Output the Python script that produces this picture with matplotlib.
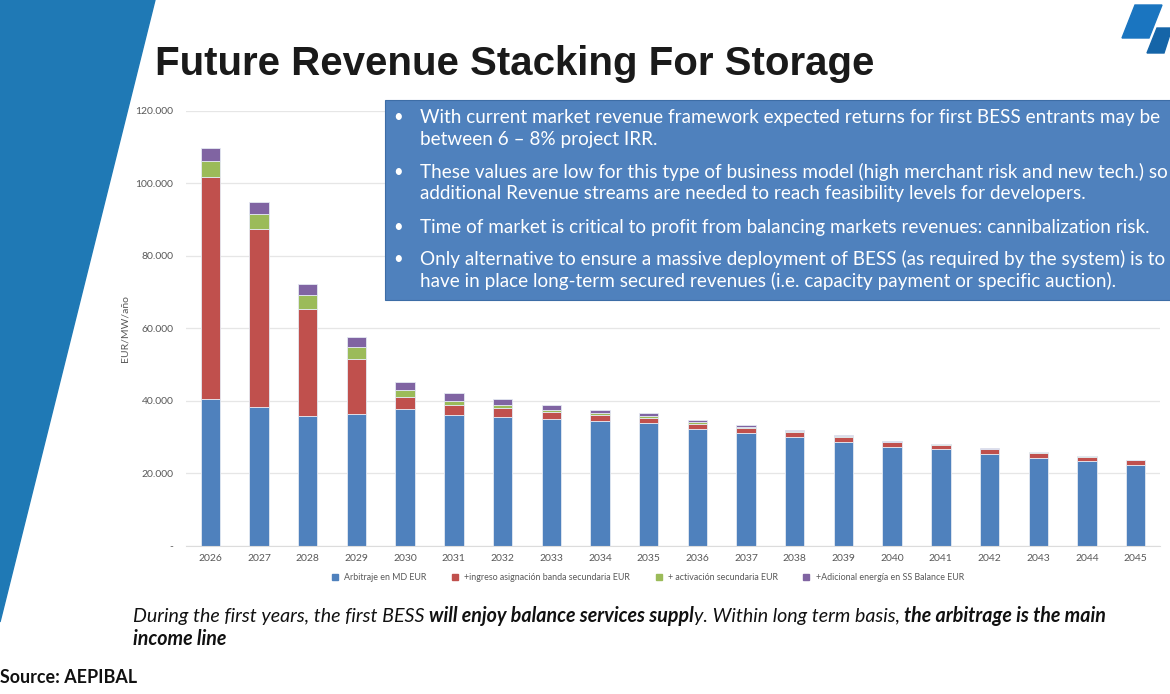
import matplotlib
matplotlib.use('Agg')
import matplotlib.pyplot as plt
from matplotlib.patches import Polygon, Rectangle
from matplotlib.lines import Line2D
from matplotlib.ticker import FuncFormatter, MultipleLocator
import numpy as np

W, H = 1170, 694
FONT = 'Lato'

years = [str(y) for y in range(2026, 2046)]
# EUR/MW/year (thousands)
arbitraje = [40.4, 38.3, 35.9, 36.4, 37.6, 36.1, 35.6, 34.9, 34.4, 33.8,
             32.2, 31.1, 30.0, 28.7, 27.1, 26.6, 25.3, 24.3, 23.3, 22.3]
banda = [61.3, 49.1, 29.4, 15.1, 3.4, 2.7, 2.4, 2.0, 1.7, 1.5,
         1.5, 1.4, 1.3, 1.3, 1.4, 1.3, 1.4, 1.4, 1.3, 1.3]
activacion = [4.4, 4.2, 3.9, 3.2, 1.9, 1.1, 0.8, 0.6, 0.5, 0.5,
              0.4, 0.3, 0.3, 0.2, 0.2, 0.1, 0.1, 0.05, 0.05, 0.05]
adicional = [3.6, 3.3, 2.9, 2.8, 2.3, 2.1, 1.7, 1.3, 0.9, 0.8,
             0.5, 0.4, 0.3, 0.3, 0.2, 0.1, 0.1, 0.1, 0.05, 0.05]

series_names = ['Arbitraje en MD EUR', '+ingreso asignación banda secundaria EUR',
                '+ activación secundaria EUR', '+Adicional energía en SS Balance EUR']
series_colors = ['#4F81BD', '#C0504D', '#9BBB59', '#8064A2']

bullets = [
    ['With current market revenue framework expected returns for first BESS entrants may be',
     'between 6 – 8% project IRR.'],
    ['These values are low for this type of business model (high merchant risk and new tech.) so',
     'additional Revenue streams are needed to reach feasibility levels for developers.'],
    ['Time of market is critical to profit from balancing markets revenues: cannibalization risk.'],
    ['Only alternative to ensure a massive deployment of BESS (as required by the system) is to',
     'have in place long-term secured revenues (i.e. capacity payment or specific auction).'],
]
bullet_y = [[117, 139], [172, 194], [227], [259, 281]]


def P(x, y):
    return x / W, 1 - y / H


fig = plt.figure(figsize=(W / 100, H / 100), dpi=100)
r = fig.canvas.get_renderer()

# decoration on the left and logo
fig.patches.append(Polygon([P(0, 0), P(155, 0), P(0, 622)], closed=True,
                           transform=fig.transFigure, color='#1f79b5', zorder=0))
fig.patches.append(Polygon([P(1135, 5), P(1162, 5), P(1149, 38), P(1122, 38)], closed=True,
                           transform=fig.transFigure, color='#1a75c0'))
fig.patches.append(Polygon([P(1157, 28), P(1172, 28), P(1164, 53), P(1147, 53)], closed=True,
                           transform=fig.transFigure, color='#1565a8'))

fig.text(*P(155, 75), 'Future Revenue Stacking For Storage', fontsize=29, weight='bold',
         family='Liberation Sans', color='#1a1a1a', va='baseline')

# chart
ax = fig.add_axes([186 / W, 1 - 545.7 / H, (1160 - 186) / W, (545.7 - 110.7) / H])
x = np.arange(len(years))
bottom = np.zeros(len(years))
for vals, name, col in zip([arbitraje, banda, activacion, adicional], series_names, series_colors):
    v = np.array(vals) * 1000
    ax.bar(x, v, 0.4, bottom=bottom, color=col, edgecolor='#e4e9f2', linewidth=0.6,
           label=name, zorder=2)
    bottom += v

ax.set_xlim(-0.5, len(years) - 0.5)
ax.set_ylim(0, 120000)
ax.yaxis.set_major_locator(MultipleLocator(20000))
ax.yaxis.set_major_formatter(FuncFormatter(
    lambda v, p: '-' if v == 0 else f'{v:,.0f}'.replace(',', '.')))
ax.set_xticks(x)
ax.set_xticklabels(years)
ax.tick_params(length=0, labelsize=7.5, labelcolor='#595959', pad=6)
ax.tick_params(axis='y', pad=9)
ax.grid(axis='y', color='#e6e6e6', linewidth=0.9, zorder=0)
for s in ['top', 'right', 'left']:
    ax.spines[s].set_visible(False)
ax.spines['bottom'].set_color('#dcdcdc')
for lab in ax.get_xticklabels() + ax.get_yticklabels():
    lab.set_family(FONT)
ax.set_ylabel('EUR/MW/año', fontsize=7.5, color='#595959', family=FONT, labelpad=4)

handles = [Line2D([], [], marker='s', linestyle='', markersize=4.5, color=c) for c in series_colors]
leg = fig.legend(handles, series_names, loc='center', bbox_to_anchor=P(645, 578), ncol=4,
                 frameon=False, handletextpad=0.05, columnspacing=2.2,
                 prop={'family': FONT, 'size': 6.4})
for t in leg.get_texts():
    t.set_color('#595959')

# text box
fig.patches.append(Rectangle(P(385, 300), (1172 - 385) / W, 200 / H, transform=fig.transFigure,
                             facecolor='#4F81BD', edgecolor='#3d6da6', linewidth=0.8, zorder=3))
for lines, ys in zip(bullets, bullet_y):
    fig.text(*P(393, ys[0]), '•', color='white', fontsize=12, family=FONT, va='center', zorder=4)
    for line, yy in zip(lines, ys):
        fig.text(*P(420, yy), line, color='white', fontsize=13.55, family=FONT, va='center', zorder=4)

# bottom note, mixed bold / regular italic
def run_line(runs, x0, y, size):
    probe1 = fig.text(0, 0, 'a a', fontsize=size, style='italic', family=FONT)
    probe2 = fig.text(0, 0, 'aa', fontsize=size, style='italic', family=FONT)
    sp = probe1.get_window_extent(r).width - probe2.get_window_extent(r).width
    probe1.remove()
    probe2.remove()
    xx = x0
    for s, w, gap in runs:
        if gap:
            xx += sp
        t = fig.text(xx / W, 1 - y / H, s, fontsize=size, style='italic', weight=w,
                     family=FONT, color='#111111', va='baseline')
        xx = t.get_window_extent(r).x1

run_line([('During the first years, the first BESS', 'normal', False),
          ('will enjoy balance services suppl', 'bold', True),
          ('y. Within long term basis,', 'normal', False),
          ('the arbitrage is the main', 'bold', True)], 133, 622, 14.1)
run_line([('income line', 'bold', False)], 133, 645, 14.1)

fig.text(*P(0, 683), 'Source: AEPIBAL', fontsize=12.9, weight='bold', family=FONT,
         color='#111111', va='baseline')

fig.savefig('out.png', dpi=100)
